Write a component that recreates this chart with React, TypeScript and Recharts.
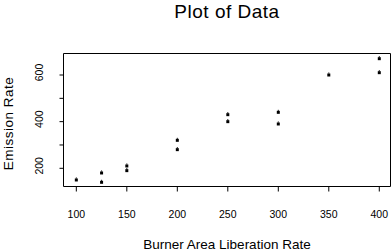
import React from 'react';
import { ScatterChart, Scatter, XAxis, YAxis, ReferenceArea, Label } from 'recharts';

const burnerRate = [100, 125, 125, 150, 150, 200, 200, 250, 250, 300, 300, 350, 400, 400];
const emissionRate = [150, 140, 180, 210, 190, 320, 280, 400, 430, 440, 390, 600, 610, 670];
const xTicks = [100, 150, 200, 250, 300, 350, 400];
const yTicks = [200, 300, 400, 500, 600];
const yLabelled = [200, 400, 600];
const xDomain: [number, number] = [87.3, 411.1];
const yDomain: [number, number] = [122, 692.2];

const data = burnerRate.map((x, i) => ({ x, y: emissionRate[i] }));

const FONT = '"Liberation Sans", Arial, Helvetica, sans-serif';

const Marker = (props: any) => {
  const { cx, cy } = props;
  if (cx == null || cy == null) return null;
  return (
    <g>
      <rect x={cx - 1.5} y={cy - 1.5} width={3} height={3} fill="#000" />
      <rect x={cx - 0.5} y={cy - 2.5} width={1} height={1} fill="#000" />
    </g>
  );
};

const XTick = (props: any) => {
  const { x, y, payload } = props;
  return (
    <text x={x} y={y + 24.5} textAnchor="middle" fontSize={10.5} fontFamily={FONT} fill="#000">
      {payload.value}
    </text>
  );
};

const YTick = (props: any) => {
  const { x, y, payload } = props;
  if (!yLabelled.includes(payload.value)) return null;
  const tx = x - 14;
  const ty = y - 2.5;
  return (
    <text x={tx} y={ty} transform={`rotate(-90 ${tx} ${ty})`} textAnchor="middle" fontSize={10.5} fontFamily={FONT} fill="#000">
      {payload.value}
    </text>
  );
};

export default function App() {
  return (
    <div style={{ position: 'absolute', left: 0, top: 0, background: '#fff' }}>
      <ScatterChart width={392} height={251} margin={{ top: 53.5, right: 1.5, bottom: 0, left: 0 }}>
        <XAxis
          type="number"
          dataKey="x"
          domain={xDomain}
          ticks={xTicks}
          allowDataOverflow
          axisLine={false}
          tickLine={{ stroke: '#000' }}
          tickSize={5}
          tick={<XTick />}
          height={64.5}
        >
          <Label
            content={(p: any) => {
              const vb = p.viewBox;
              return (
                <text x={vb.x + vb.width / 2} y={vb.y + 62.5} textAnchor="middle" fontSize={13.5} fontFamily={FONT} fill="#000">
                  Burner Area Liberation Rate
                </text>
              );
            }}
          />
        </XAxis>
        <YAxis
          type="number"
          dataKey="y"
          domain={yDomain}
          ticks={yTicks}
          allowDataOverflow
          axisLine={false}
          tickLine={{ stroke: '#000' }}
          tickSize={4}
          tick={<YTick />}
          width={63.5}
        >
          <Label
            content={(p: any) => {
              const vb = p.viewBox;
              const tx = 12.5;
              const ty = vb.y + vb.height / 2 + 3.5;
              return (
                <text x={tx} y={ty} transform={`rotate(-90 ${tx} ${ty})`} textAnchor="middle" fontSize={13.5} letterSpacing={0.5} fontFamily={FONT} fill="#000">
                  Emission Rate
                </text>
              );
            }}
          />
        </YAxis>
        <ReferenceArea
          x1={xDomain[0]}
          x2={xDomain[1]}
          y1={yDomain[0]}
          y2={yDomain[1]}
          fill="none"
          fillOpacity={0}
          stroke="#000"
          strokeWidth={1}
          ifOverflow="visible"
          label={(p: any) => {
            const vb = p.viewBox;
            return (
              <text x={vb.x + vb.width / 2} y={vb.y - 36} textAnchor="middle" fontSize={19} letterSpacing={0.5} fontFamily={FONT} fill="#000">
                Plot of Data
              </text>
            );
          }}
        />
        <Scatter data={data} isAnimationActive={false} shape={<Marker />} />
      </ScatterChart>
    </div>
  );
}
